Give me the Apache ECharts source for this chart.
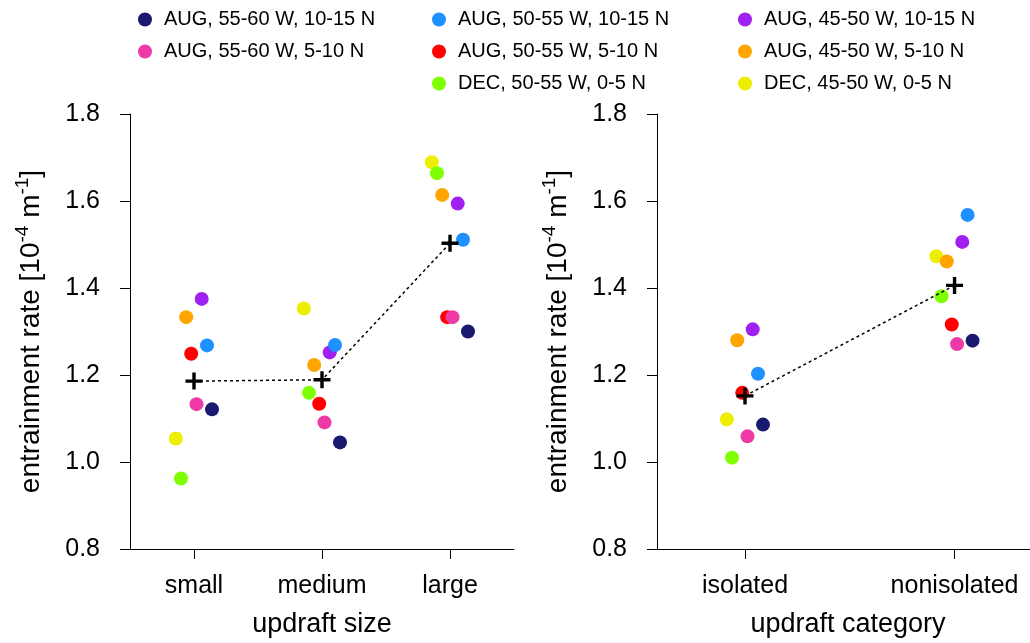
<!DOCTYPE html>
<html>
<head>
<meta charset="utf-8">
<script src="https://cdn.jsdelivr.net/npm/echarts@6/dist/echarts.min.js"></script>
<style>
html,body{margin:0;padding:0;background:#fff;}
#chart{width:1030px;height:643px;}
</style>
</head>
<body>
<div id="chart"></div>
<script>
// ---------------- data ----------------
const sizeCategories = ['small', 'medium', 'large'];
const typeCategories = ['isolated', 'nonisolated'];
const yTicks = [0.8, 1.0, 1.2, 1.4, 1.6, 1.8];

const groupNames = [
  'AUG, 55-60 W, 10-15 N',
  'AUG, 55-60 W, 5-10 N',
  'AUG, 50-55 W, 10-15 N',
  'AUG, 50-55 W, 5-10 N',
  'DEC, 50-55 W, 0-5 N',
  'AUG, 45-50 W, 10-15 N',
  'AUG, 45-50 W, 5-10 N',
  'DEC, 45-50 W, 0-5 N'
];

// entrainment rate by updraft size (small, medium, large)
const sizeAug5560N1015 = [1.121, 1.045, 1.300];
const sizeAug5560N510  = [1.133, 1.091, 1.333];
const sizeAug5055N1015 = [1.268, 1.269, 1.511];
const sizeAug5055N510  = [1.249, 1.134, 1.333];
const sizeDec5055N05   = [0.962, 1.159, 1.664];
const sizeAug4550N1015 = [1.375, 1.252, 1.594];
const sizeAug4550N510  = [1.333, 1.223, 1.614];
const sizeDec4550N05   = [1.054, 1.353, 1.689];
const sizeMeans        = [1.186, 1.189, 1.503];

// entrainment rate by updraft category (isolated, nonisolated)
const typeAug5560N1015 = [1.086, 1.279];
const typeAug5560N510  = [1.059, 1.271];
const typeAug5055N1015 = [1.203, 1.568];
const typeAug5055N510  = [1.159, 1.316];
const typeDec5055N05   = [1.010, 1.381];
const typeAug4550N1015 = [1.305, 1.506];
const typeAug4550N510  = [1.280, 1.461];
const typeDec4550N05   = [1.098, 1.473];
const typeMeans        = [1.152, 1.406];

const sizeSeriesData = [sizeAug5560N1015, sizeAug5560N510, sizeAug5055N1015, sizeAug5055N510,
                        sizeDec5055N05, sizeAug4550N1015, sizeAug4550N510, sizeDec4550N05];
const typeSeriesData = [typeAug5560N1015, typeAug5560N510, typeAug5055N1015, typeAug5055N510,
                        typeDec5055N05, typeAug4550N1015, typeAug4550N510, typeDec4550N05];

// ---------------- style ----------------
const colors = ['#191970', '#EE3AA6', '#1E90FF', '#FF0000', '#7FFF00', '#A020F0', '#FFA500', '#EEEE00'];
const dodgePx = [18, 2.5, 13, -2.8, -13, 7.7, -7.8, -18.2];
const drawOrder = [7, 4, 6, 3, 1, 5, 2, 0];
const FONT = 'Liberation Sans, Arial, Helvetica, sans-serif';
const plusPath = 'path://M8,0H12V8H20V12H12V20H8V12H0V8H8Z';

function xAxisFor(gridIndex, cats, min, max, title, namePad) {
  const vals = cats.map((c, i) => i + 1);
  return {
    type: 'value', gridIndex, min, max,
    axisLine: {show: true, onZero: false, lineStyle: {color: '#000', width: 1}},
    axisTick: {show: true, length: 10, customValues: vals, lineStyle: {color: '#000', width: 1}},
    axisLabel: {show: true, customValues: vals, margin: 25, color: '#000', fontSize: 25, fontFamily: FONT,
                formatter: v => cats[Math.round(v) - 1]},
    splitLine: {show: false},
    name: title, nameLocation: 'middle', nameGap: 62,
    nameTextStyle: {color: '#000', fontSize: 27, fontFamily: FONT, padding: namePad}
  };
}
function yAxisFor(gridIndex) {
  return {
    type: 'value', gridIndex, min: yTicks[0], max: yTicks[yTicks.length - 1], interval: 0.2,
    axisLine: {show: true, lineStyle: {color: '#000', width: 1}},
    axisTick: {show: true, length: 10, lineStyle: {color: '#000', width: 1}},
    axisLabel: {margin: 30, color: '#000', fontSize: 25, fontFamily: FONT, formatter: v => v.toFixed(1)},
    splitLine: {show: false},
    name: '{n|entrainment rate [10}{s|-4}{n| m}{s|-1}{n|]}',
    nameLocation: 'middle', nameRotate: 90, nameGap: 85,
    nameTextStyle: {
      color: '#000', fontFamily: FONT,
      rich: {
        n: {fontSize: 28, lineHeight: 32, color: '#000', fontFamily: FONT, verticalAlign: 'bottom'},
        s: {fontSize: 19, lineHeight: 30, color: '#000', fontFamily: FONT, verticalAlign: 'top'}
      }
    }
  };
}

const series = [];
function addPanel(axisIndex, cats, dataArrs, means) {
  drawOrder.forEach(g => {
    series.push({
      name: groupNames[g], type: 'scatter', xAxisIndex: axisIndex, yAxisIndex: axisIndex,
      symbol: 'circle', symbolSize: 14, symbolOffset: [dodgePx[g], 0],
      itemStyle: {color: colors[g], opacity: 1},
      emphasis: {disabled: true},
      data: dataArrs[g].map((v, i) => [i + 1, v]), z: 2
    });
  });
  series.push({
    type: 'line', xAxisIndex: axisIndex, yAxisIndex: axisIndex, symbol: 'none',
    lineStyle: {color: '#000', width: 1.5, type: [3, 3]},
    data: means.map((v, i) => [i + 1, v]), z: 3, silent: true
  });
  series.push({
    type: 'scatter', xAxisIndex: axisIndex, yAxisIndex: axisIndex,
    symbol: plusPath, symbolSize: 17, itemStyle: {color: '#000', opacity: 1},
    emphasis: {disabled: true},
    data: means.map((v, i) => [i + 1, v]), z: 4, silent: true
  });
}
addPanel(0, sizeCategories, sizeSeriesData, sizeMeans);
addPanel(1, typeCategories, typeSeriesData, typeMeans);

function legendFor(left, idxs) {
  return {
    orient: 'vertical', left, top: 4.5, itemWidth: 28, itemHeight: 14, itemGap: 12,
    icon: 'circle', selectedMode: false,
    textStyle: {color: '#000', fontSize: 20, fontFamily: FONT, lineHeight: 20},
    data: idxs.map(i => ({name: groupNames[i], itemStyle: {color: colors[i]}}))
  };
}

const chart = echarts.init(document.getElementById('chart'), null, {renderer: 'canvas'});
chart.setOption({
  animation: false,
  backgroundColor: '#fff',
  legend: [legendFor(133, [0, 1]), legendFor(427, [2, 3, 4]), legendFor(733, [5, 6, 7])],
  grid: [
    {left: 130, top: 114, width: 384, height: 437, containLabel: false},
    {left: 657, top: 114, width: 373, height: 437, containLabel: false}
  ],
  xAxis: [
    xAxisFor(0, sizeCategories, 0.5, 3.5, 'updraft size', 0),
    xAxisFor(1, typeCategories, 0.58, 2.36, 'updraft category', [0, 0, 0, 9])
  ],
  yAxis: [yAxisFor(0), yAxisFor(1)],
  series
});
</script>
</body>
</html>
